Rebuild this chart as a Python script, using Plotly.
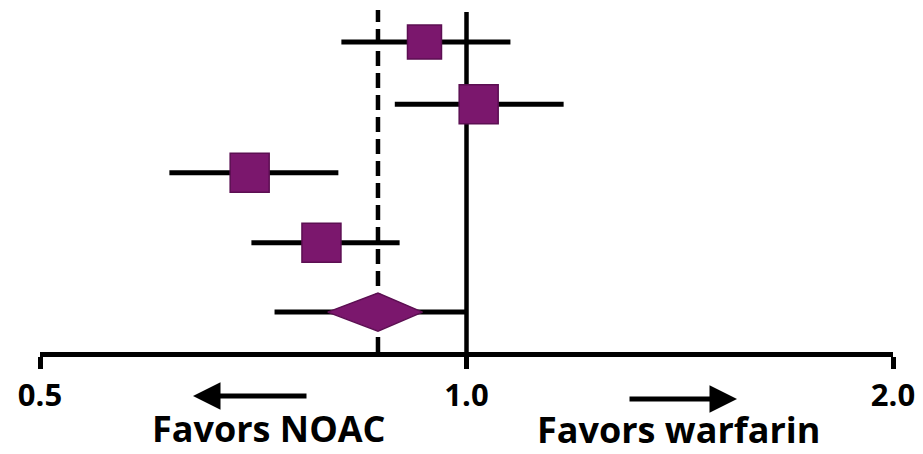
import plotly.graph_objects as go

# ---- data (hazard ratios, log scale) ----
study_est = [0.934, 1.020, 0.703, 0.790]
study_lo = [0.816, 0.890, 0.617, 0.705]
study_hi = [1.074, 1.171, 0.812, 0.897]
study_size = [34, 39, 39, 39]

pooled_est = 0.866
pooled_lo_diamond = 0.798
pooled_hi_diamond = 0.931
pooled_ci_lo = 0.732
pooled_ci_hi = 1.0

tick_vals = [0.5, 1.0, 2.0]
tick_text = ["0.5", "1.0", "2.0"]
left_label = "Favors NOAC"
right_label = "Favors warfarin"

# ---- layout constants ----
W, H = 923, 454
ML, MR, MT, MB = 40, 30, 0, 102
PH = H - MT - MB
ROW_UNIT = 70.0
study_rows = [4.43, 3.54, 2.56, 1.56]
pooled_row = 0.57
diamond_half = 19 / ROW_UNIT

FILL = "#7b176d"
EDGE = "#5c0f52"
FONT = "Open Sans"

fig = go.Figure()

# pooled CI line
fig.add_trace(go.Scatter(
    x=[pooled_ci_lo, pooled_ci_hi], y=[pooled_row, pooled_row],
    mode="lines", line=dict(color="black", width=5),
    hoverinfo="skip", showlegend=False))

# pooled diamond
fig.add_trace(go.Scatter(
    x=[pooled_lo_diamond, pooled_est, pooled_hi_diamond, pooled_est, pooled_lo_diamond],
    y=[pooled_row, pooled_row + diamond_half, pooled_row, pooled_row - diamond_half, pooled_row],
    mode="lines", fill="toself", fillcolor=FILL,
    line=dict(color=EDGE, width=1.5),
    hoverinfo="skip", showlegend=False))

# studies: squares with asymmetric CI bars
fig.add_trace(go.Scatter(
    x=study_est, y=study_rows, mode="markers",
    marker=dict(symbol="square", size=study_size, color=FILL, opacity=1,
                line=dict(color=EDGE, width=1.5)),
    error_x=dict(type="data", symmetric=False,
                 array=[h - e for h, e in zip(study_hi, study_est)],
                 arrayminus=[e - l for e, l in zip(study_est, study_lo)],
                 color="black", thickness=5, width=0),
    showlegend=False))

def py(ypix):
    return (H - MB - ypix) / PH

shapes = [
    dict(type="line", xref="x", yref="paper", x0=1.0, x1=1.0,
         y0=py(362), y1=py(12), line=dict(color="black", width=4.5), layer="below"),
    dict(type="line", xref="x", yref="paper", x0=pooled_est, x1=pooled_est,
         y0=0, y1=py(10), line=dict(color="black", width=4.5, dash="15px,7px"),
         layer="below"),
]

def px(xpix):
    return (xpix - ML) / (W - ML - MR)

annotations = [
    dict(x=px(193), y=py(396), xref="paper", yref="paper", ax=115, ay=0,
         showarrow=True, arrowhead=2, arrowsize=1.1, arrowwidth=5,
         arrowcolor="black", text=""),
    dict(x=px(737), y=py(399), xref="paper", yref="paper", ax=-109, ay=0,
         showarrow=True, arrowhead=2, arrowsize=1.1, arrowwidth=5,
         arrowcolor="black", text=""),
    dict(x=px(268.5), y=py(428), xref="paper", yref="paper", showarrow=False,
         text=left_label, xanchor="center", yanchor="middle",
         font=dict(family=FONT, size=36, color="black", weight="bold")),
    dict(x=px(678), y=py(429), xref="paper", yref="paper", showarrow=False,
         text=right_label, xanchor="center", yanchor="middle",
         font=dict(family=FONT, size=36, color="black", weight="bold")),
]

fig.update_layout(
    width=W, height=H,
    margin=dict(l=ML, r=MR, t=MT, b=MB),
    paper_bgcolor="white", plot_bgcolor="white",
    shapes=shapes, annotations=annotations,
    xaxis=dict(type="log", range=[-0.30103, 0.30103],
               tickvals=tick_vals, ticktext=tick_text,
               showline=True, linecolor="black", linewidth=5,
               ticks="outside", ticklen=12, tickwidth=5, tickcolor="black",
               showgrid=False, zeroline=False,
               tickfont=dict(family=FONT, size=31, color="black", weight="bold"),
               fixedrange=True),
    yaxis=dict(range=[0, PH / ROW_UNIT], visible=False, fixedrange=True),
)

fig.write_html("out.html", config={"displayModeBar": False})
